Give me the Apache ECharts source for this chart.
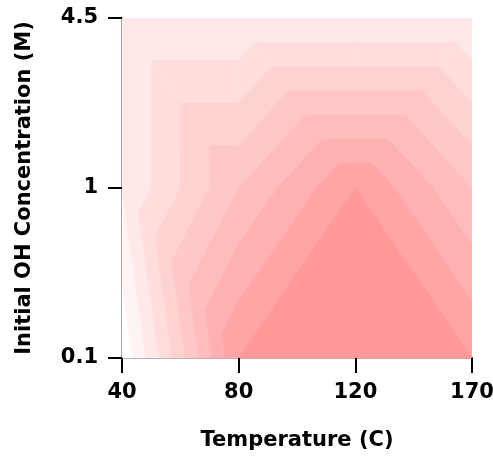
<!DOCTYPE html>
<html lang="en">

<head>
  <meta charset="UTF-8" />
  <title>Contour - OH concentration vs temperature</title>
  <script src="https://cdn.jsdelivr.net/npm/echarts@6.0.0/dist/echarts.min.js"></script>
  <style>
    html, body { margin: 0; padding: 0; background: #fff; }
    #chart { width: 493px; height: 459px; }
  </style>
</head>

<body>
  <div id="chart"></div>

  <script>
    // axis categories (evenly spaced in the plot)
    const temperatures = ['40', '80', '120', '170'];
    const concentrations = ['0.1', '1', '4.5'];

    // measured values, one row per concentration (bottom to top)
    const rowConc01 = [2, 90, 96, 90];
    const rowConc1 = [20, 60, 90, 60];
    const rowConc45 = [20, 20, 20, 20];

    // contour levels and fill colours (one more colour than levels)
    const levels = [10, 20, 30, 40, 50, 60, 70, 80, 90];
    const bandColors = [
      '#ffffff', '#fff4f4', '#ffe8e8', '#ffdddd', '#ffd2d2',
      '#ffc7c7', '#ffbcbc', '#ffb0b0', '#ffa5a5', '#ff9999'
    ];

    const grid = [rowConc01, rowConc1, rowConc45];
    const z = (i, j) => grid[j][i];

    // split every cell in two triangles along the diagonal with the higher mean
    const triangles = [];
    for (let j = 0; j < concentrations.length - 1; j++) {
      for (let i = 0; i < temperatures.length - 1; i++) {
        const a = [i, j], b = [i + 1, j], c = [i + 1, j + 1], d = [i, j + 1];
        if (z(i + 1, j) + z(i, j + 1) >= z(i, j) + z(i + 1, j + 1)) {
          triangles.push([a, b, d], [b, c, d]);
        } else {
          triangles.push([a, b, c], [a, c, d]);
        }
      }
    }

    function clip(poly, level, keepAbove) {
      const out = [];
      for (let k = 0; k < poly.length; k++) {
        const p = poly[k], q = poly[(k + 1) % poly.length];
        const pin = keepAbove ? p.z >= level : p.z <= level;
        const qin = keepAbove ? q.z >= level : q.z <= level;
        if (pin) out.push(p);
        if (pin !== qin) {
          const t = (level - p.z) / (q.z - p.z);
          out.push({ x: p.x + t * (q.x - p.x), y: p.y + t * (q.y - p.y), z: level });
        }
      }
      return out;
    }

    function renderTriangle(params, api) {
      const tri = triangles[params.dataIndex].map(v => ({ x: v[0], y: v[1], z: z(v[0], v[1]) }));
      const children = [];
      for (let k = 0; k <= levels.length; k++) {
        let poly = tri;
        if (k > 0) poly = clip(poly, levels[k - 1], true);
        if (k < levels.length && poly.length) poly = clip(poly, levels[k], false);
        if (poly.length < 3) continue;
        children.push({
          type: 'polygon',
          shape: { points: poly.map(p => api.coord([p.x, p.y])) },
          style: { fill: bandColors[k], stroke: bandColors[k], lineWidth: 0.8 }
        });
      }
      return { type: 'group', children: children };
    }

    const labelFont = { fontFamily: 'DejaVu Sans', fontWeight: 'bold', fontSize: 21, color: '#000' };

    const chart = echarts.init(document.getElementById('chart'));
    chart.setOption({
      animation: false,
      grid: { left: 122, right: 21, top: 18, bottom: 101, outerBoundsMode: 'none', containLabel: false },
      xAxis: [{
        type: 'value', min: 0, max: 3, interval: 1,
        name: 'Temperature (C)', nameLocation: 'middle', nameGap: 72,
        nameTextStyle: Object.assign({}, labelFont),
        axisLine: { lineStyle: { color: '#000', width: 2 } },
        axisTick: { length: 15, lineStyle: { color: '#000', width: 2 } },
        axisLabel: Object.assign({ margin: 24, formatter: v => temperatures[v] }, labelFont),
        splitLine: { show: false }
      }, {
        type: 'value', min: 0, max: 3, position: 'top',
        axisLine: { lineStyle: { color: '#b4b4b4', width: 1 } },
        axisTick: { show: false }, axisLabel: { show: false }, splitLine: { show: false }
      }],
      yAxis: [{
        type: 'value', min: 0, max: 2, interval: 1,
        name: 'Initial OH Concentration (M)', nameLocation: 'middle', nameGap: 87,
        nameTextStyle: Object.assign({}, labelFont),
        axisLine: { lineStyle: { color: '#a8a8a8', width: 2 } },
        axisTick: { length: 14, lineStyle: { color: '#000', width: 2 } },
        axisLabel: Object.assign({ margin: 24, formatter: v => concentrations[v] }, labelFont),
        splitLine: { show: false }
      }, {
        type: 'value', min: 0, max: 2, position: 'right',
        axisLine: { lineStyle: { color: '#404040', width: 1 } },
        axisTick: { show: false }, axisLabel: { show: false }, splitLine: { show: false }
      }],
      series: [{
        type: 'custom',
        xAxisIndex: 0,
        yAxisIndex: 0,
        clip: true,
        renderItem: renderTriangle,
        encode: { x: 0, y: 1 },
        data: triangles.map(t => [t[0][0], t[0][1]]),
        z: 1
      }]
    });
  </script>
</body>

</html>
